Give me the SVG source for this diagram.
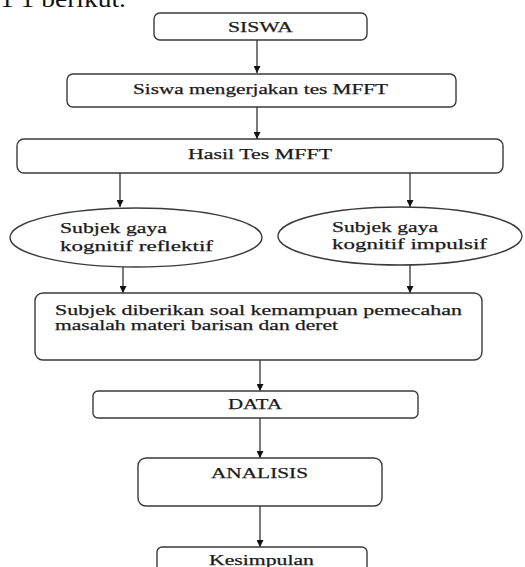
<svg xmlns="http://www.w3.org/2000/svg" width="525" height="567" viewBox="0 0 525 567">
<style>
.box{fill:#fff;stroke:#3a3a3a;stroke-width:1.4}
.t{font-family:'Liberation Serif',serif;font-size:15px;fill:#1a1a1a;stroke:#1a1a1a;stroke-width:0.25}
.c{stroke:#222;stroke-width:1.2;fill:none}
</style>
<defs>
<marker id="ah" markerUnits="userSpaceOnUse" markerWidth="8" markerHeight="7" refX="7" refY="3.5" orient="auto">
<path d="M0,0 L7,3.5 L0,7 Z" fill="#111"/>
</marker>
</defs>
<rect width="525" height="567" fill="#fff"/>
<text x="0" y="7" font-family="'Liberation Serif',serif" font-size="24" fill="#111" textLength="126" lengthAdjust="spacingAndGlyphs">1 1 berikut.</text>
<g id="connectors">
<line class="c" x1="257" y1="40" x2="257" y2="73" marker-end="url(#ah)"/>
<line class="c" x1="257" y1="107" x2="257" y2="139" marker-end="url(#ah)"/>
<line class="c" x1="120" y1="173" x2="120" y2="207" marker-end="url(#ah)"/>
<line class="c" x1="410" y1="173" x2="410" y2="207" marker-end="url(#ah)"/>
<line class="c" x1="123" y1="267" x2="123" y2="293" marker-end="url(#ah)"/>
<line class="c" x1="410" y1="265" x2="410" y2="293" marker-end="url(#ah)"/>
<line class="c" x1="260" y1="360" x2="260" y2="391" marker-end="url(#ah)"/>
<line class="c" x1="260" y1="418" x2="260" y2="458" marker-end="url(#ah)"/>
<line class="c" x1="260" y1="506" x2="260" y2="547" marker-end="url(#ah)"/>
</g>
<g id="siswa">
<rect class="box" x="154" y="13" width="213" height="27" rx="6"/>
<text class="t" x="228" y="32" textLength="65" lengthAdjust="spacingAndGlyphs">SISWA</text>
</g>
<g id="mengerjakan">
<rect class="box" x="67" y="74" width="389" height="33" rx="6"/>
<text class="t" x="133" y="94" textLength="255" lengthAdjust="spacingAndGlyphs">Siswa mengerjakan tes MFFT</text>
</g>
<g id="hasil">
<rect class="box" x="17" y="139" width="486" height="34" rx="7"/>
<text class="t" x="188" y="159" textLength="144" lengthAdjust="spacingAndGlyphs">Hasil Tes MFFT</text>
</g>
<g id="reflektif">
<ellipse class="box" cx="136" cy="237.5" rx="126" ry="29.5"/>
<text class="t" x="60" y="233" textLength="107" lengthAdjust="spacingAndGlyphs">Subjek gaya</text>
<text class="t" x="60" y="251" textLength="153" lengthAdjust="spacingAndGlyphs">kognitif reflektif</text>
</g>
<g id="impulsif">
<ellipse class="box" cx="400" cy="236" rx="122" ry="29"/>
<text class="t" x="332" y="232" textLength="106" lengthAdjust="spacingAndGlyphs">Subjek gaya</text>
<text class="t" x="332" y="249" textLength="155" lengthAdjust="spacingAndGlyphs">kognitif impulsif</text>
</g>
<g id="soal">
<rect class="box" x="35" y="293" width="447" height="67" rx="8"/>
<text class="t" x="55" y="315" textLength="407" lengthAdjust="spacingAndGlyphs">Subjek diberikan soal kemampuan pemecahan</text>
<text class="t" x="55" y="330" textLength="283" lengthAdjust="spacingAndGlyphs">masalah materi barisan dan deret</text>
</g>
<g id="data">
<rect class="box" x="93" y="391" width="325" height="27" rx="5"/>
<text class="t" x="228" y="409" textLength="54" lengthAdjust="spacingAndGlyphs">DATA</text>
</g>
<g id="analisis">
<rect class="box" x="138" y="458" width="244" height="48" rx="8"/>
<text class="t" x="211" y="478" textLength="97" lengthAdjust="spacingAndGlyphs">ANALISIS</text>
</g>
<g id="kesimpulan">
<rect class="box" x="157" y="547" width="210" height="30" rx="5"/>
<text class="t" x="209" y="565" textLength="105" lengthAdjust="spacingAndGlyphs">Kesimpulan</text>
</g>
</svg>
